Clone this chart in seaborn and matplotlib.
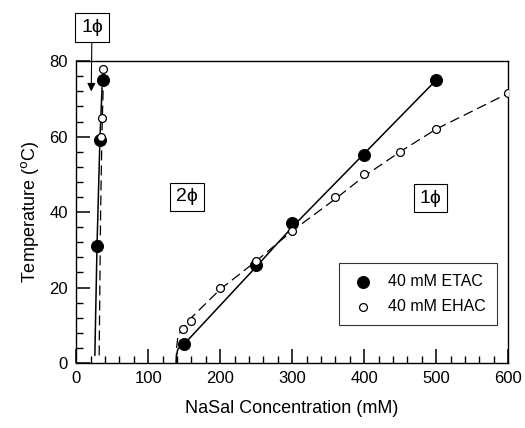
import numpy as np
import pandas as pd
import matplotlib
matplotlib.use("Agg")
import matplotlib.pyplot as plt
import seaborn as sns

# measured points
etac_x = [29, 33, 37, 150, 250, 300, 400, 500]
etac_y = [31, 59, 75, 5, 26, 37, 55, 75]
ehac_x = [35, 36, 38, 148, 160, 200, 250, 300, 360, 400, 450, 500, 600]
ehac_y = [60, 65, 78, 9, 11, 20, 27, 35, 44, 50, 56, 62, 71.5]

# phase boundary curves
etac_left_x = [26, 29, 33, 36]
etac_left_y = [2, 31, 59, 73]
ehac_left_x = [32, 34, 36, 38]
ehac_left_y = [2, 40, 62, 76]
etac_right_x = [139, 139.5, 141, 144, 150, 250, 300, 400, 500]
etac_right_y = [0, 2, 3.5, 4.3, 5, 25.5, 36, 55.5, 75]
ehac_right_x = [139, 139.5, 141, 144, 150, 160, 200, 250, 300, 360, 400, 450, 500, 600]
ehac_right_y = [0, 4, 6.5, 8, 9.5, 12, 19.5, 27, 35, 43.5, 49.5, 56, 62, 71.5]

sns.set_theme(style="ticks")
plt.rcParams["font.family"] = ["Liberation Sans", "DejaVu Sans"]
plt.rcParams["text.color"] = "black"
plt.rcParams["axes.labelcolor"] = "black"

fig = plt.figure(figsize=(5.25, 4.28), dpi=100)
ax = fig.add_axes([0.145, 0.152, 0.823, 0.705])

sns.lineplot(x=etac_left_x, y=etac_left_y, sort=False, color="black", lw=1.1, ax=ax)
sns.lineplot(x=etac_right_x, y=etac_right_y, sort=False, color="black", lw=1.1, ax=ax)
sns.lineplot(x=ehac_left_x, y=ehac_left_y, sort=False, color="black", lw=0.9,
             linestyle=(0, (8, 4)), ax=ax)
sns.lineplot(x=ehac_right_x, y=ehac_right_y, sort=False, color="black", lw=0.9,
             linestyle=(0, (8, 4)), ax=ax)

sns.scatterplot(x=etac_x, y=etac_y, color="black", s=75, edgecolor="black",
                label="40 mM ETAC", zorder=5, ax=ax)
sns.scatterplot(x=ehac_x, y=ehac_y, facecolor="white", s=32, edgecolor="black",
                linewidth=0.9, label="40 mM EHAC", zorder=6, ax=ax)

ax.set_xlim(0, 600)
ax.set_ylim(0, 80)
for sp in ax.spines.values():
    sp.set_linewidth(1.0)
    sp.set_color("black")

ax.set_xlabel("NaSal Concentration (mM)", fontsize=13, labelpad=10)
ax.set_ylabel("Temperature ($^{\\rm o}$C)", fontsize=13, labelpad=6)

box = dict(boxstyle="square,pad=0.3", fc="white", ec="black", lw=0.8)
ax.text(154, 44, "2\u03d5", fontsize=14, ha="center", va="center", bbox=box)
ax.text(492, 43.7, "1\u03d5", fontsize=14, ha="center", va="center", bbox=box)
ax.annotate("1\u03d5", xy=(21, 72), xytext=(22, 89), fontsize=14, ha="center",
            va="center", bbox=box, annotation_clip=False,
            arrowprops=dict(arrowstyle="-|>", color="black", lw=0.8,
                            shrinkA=0, shrinkB=0, mutation_scale=12))

leg = ax.legend(loc="lower right", bbox_to_anchor=(0.975, 0.126), fontsize=11.5,
                frameon=True, fancybox=False, edgecolor="black",
                handletextpad=0.8, handlelength=1.6, borderpad=0.7,
                labelspacing=0.6, borderaxespad=0)
leg.get_frame().set_linewidth(0.8)

# ticks: inward, major every 100 / 20, minor every 20 / 4
ax.xaxis.set_major_locator(matplotlib.ticker.MultipleLocator(100))
ax.xaxis.set_minor_locator(matplotlib.ticker.MultipleLocator(20))
ax.yaxis.set_major_locator(matplotlib.ticker.MultipleLocator(20))
ax.yaxis.set_minor_locator(matplotlib.ticker.MultipleLocator(4))
ax.tick_params(which="major", direction="in", length=10, width=1.1,
               color="black", labelcolor="black", labelsize=12, pad=6)
ax.tick_params(which="minor", direction="in", length=5, width=1.0, color="black")

fig.savefig("out.png", dpi=100)
